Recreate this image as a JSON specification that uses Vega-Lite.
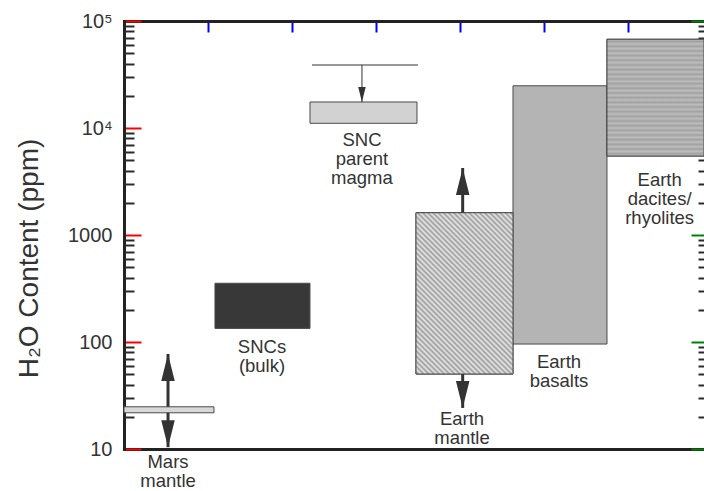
{
  "$schema": "https://vega.github.io/schema/vega-lite/v6.json",
  "width": 580,
  "height": 428,
  "autosize": {"type": "none"},
  "padding": {"left": 124, "top": 21, "right": 0, "bottom": 42},
  "background": "white",
  "config": {
    "view": {"stroke": null},
    "font": "Liberation Sans",
    "axis": {"zindex": 1, "grid": false, "title": null, "domainWidth": 3, "domainColor": "#222", "domainCap": "square"}
  },
  "datasets": {
    "boxes": [
      {"item": "Mars mantle", "x0": 0, "x1": 1.071, "lo": 21.8, "hi": 24.8},
      {"item": "SNCs (bulk)", "x0": 1.083, "x1": 2.214, "lo": 134, "hi": 354},
      {"item": "SNC parent magma", "x0": 2.214, "x1": 3.488, "lo": 11070, "hi": 17500},
      {"item": "Earth mantle", "x0": 3.476, "x1": 4.631, "lo": 50.2, "hi": 1615},
      {"item": "Earth basalts", "x0": 4.631, "x1": 5.75, "lo": 95.7, "hi": 24800},
      {"item": "Earth dacites/rhyolites", "x0": 5.75, "x1": 6.905, "lo": 5470, "hi": 67500}
    ],
    "limits": [
      {"item": "SNC parent magma", "x0": 2.238, "x1": 3.5, "y": 38800}
    ],
    "arrows": [
      {"item": "Mars mantle", "x": 0.524, "from": 24.8, "tip": 77.3, "dir": "up"},
      {"item": "Mars mantle", "x": 0.524, "from": 21.8, "tip": 10.4, "dir": "down"},
      {"item": "Earth mantle", "x": 4.032, "from": 1615, "tip": 4230, "dir": "up"},
      {"item": "Earth mantle", "x": 4.032, "from": 50.2, "tip": 24.2, "dir": "down"},
      {"item": "SNC parent magma", "x": 2.833, "from": 38800, "tip": 17500, "dir": "down"}
    ],
    "labels": [
      {"text": "Mars\nmantle", "x": 0.524, "y": 9.25},
      {"text": "SNCs\n(bulk)", "x": 1.643, "y": 109},
      {"text": "SNC\nparent\nmagma", "x": 2.833, "y": 9310},
      {"text": "Earth\nmantle", "x": 4.024, "y": 23.3},
      {"text": "Earth\nbasalts", "x": 5.179, "y": 78.9},
      {"text": "Earth\ndacites/\nrhyolites", "x": 6.377, "y": 3935}
    ]
  },
  "resolve": {"axis": {"x": "independent", "y": "independent"}},
  "layer": [
    {
      "data": {"name": "boxes"},
      "mark": {"type": "rect", "stroke": "#4a4a4a", "strokeWidth": 1},
      "encoding": {
        "x": {
          "field": "x0", "type": "quantitative",
          "scale": {"domain": [0, 6.905], "nice": false, "zero": false},
          "axis": {"orient": "bottom", "ticks": false, "labels": false}
        },
        "x2": {"field": "x1"},
        "y": {
          "field": "lo", "type": "quantitative",
          "scale": {"type": "log", "domain": [10, 100000], "nice": false},
          "axis": {
            "orient": "left",
            "values": [10, 100, 1000, 10000, 100000],
            "tickSize": -17, "tickColor": "red", "tickWidth": 2,
            "labelExpr": "datum.value == 100000 ? '10⁵' : datum.value == 10000 ? '10⁴' : datum.value == 1000 ? '1000' : datum.value == 100 ? '100' : '10'",
            "labelFont": "Liberation Sans", "labelFontSize": 20, "labelColor": "#333", "labelPadding": 29,
            "labelOverlap": false, "labelBound": false, "labelFlush": false,
            "title": "H₂O Content (ppm)",
            "titleFont": "Liberation Sans", "titleFontSize": 28, "titleFontWeight": "normal", "titleColor": "#333",
            "titlePadding": 24, "titleY": 237
          }
        },
        "y2": {"field": "hi"},
        "color": {
          "field": "item", "type": "nominal", "legend": null,
          "scale": {
            "domain": ["Mars mantle", "SNCs (bulk)", "SNC parent magma", "Earth mantle", "Earth basalts", "Earth dacites/rhyolites"],
            "range": ["#d8d8d8", "#383838", "#d2d2d2", "#cdcdcd", "#b4b4b4", "#b0b0b0"]
          }
        }
      }
    },
    {
      "data": {"name": "boxes"},
      "transform": [{"filter": "datum.item == 'Earth mantle'"}],
      "mark": {
        "type": "rect", "stroke": "#4a4a4a", "strokeWidth": 1,
        "fill": {
          "gradient": "linear", "x1": 0, "y1": 1, "x2": 0.708, "y2": -0.176,
          "stops": [
            {"offset": 0, "color": "#e8e8e8"}, {"offset": 0.01, "color": "#9c9c9c"}, {"offset": 0.02, "color": "#e8e8e8"}, {"offset": 0.03, "color": "#9c9c9c"}, {"offset": 0.04, "color": "#e8e8e8"}, {"offset": 0.05, "color": "#9c9c9c"}, {"offset": 0.06, "color": "#e8e8e8"}, {"offset": 0.07, "color": "#9c9c9c"}, {"offset": 0.08, "color": "#e8e8e8"}, {"offset": 0.09, "color": "#9c9c9c"},
            {"offset": 0.1, "color": "#e8e8e8"}, {"offset": 0.11, "color": "#9c9c9c"}, {"offset": 0.12, "color": "#e8e8e8"}, {"offset": 0.13, "color": "#9c9c9c"}, {"offset": 0.14, "color": "#e8e8e8"}, {"offset": 0.15, "color": "#9c9c9c"}, {"offset": 0.16, "color": "#e8e8e8"}, {"offset": 0.17, "color": "#9c9c9c"}, {"offset": 0.18, "color": "#e8e8e8"}, {"offset": 0.19, "color": "#9c9c9c"},
            {"offset": 0.2, "color": "#e8e8e8"}, {"offset": 0.21, "color": "#9c9c9c"}, {"offset": 0.22, "color": "#e8e8e8"}, {"offset": 0.23, "color": "#9c9c9c"}, {"offset": 0.24, "color": "#e8e8e8"}, {"offset": 0.25, "color": "#9c9c9c"}, {"offset": 0.26, "color": "#e8e8e8"}, {"offset": 0.27, "color": "#9c9c9c"}, {"offset": 0.28, "color": "#e8e8e8"}, {"offset": 0.29, "color": "#9c9c9c"},
            {"offset": 0.3, "color": "#e8e8e8"}, {"offset": 0.31, "color": "#9c9c9c"}, {"offset": 0.32, "color": "#e8e8e8"}, {"offset": 0.33, "color": "#9c9c9c"}, {"offset": 0.34, "color": "#e8e8e8"}, {"offset": 0.35, "color": "#9c9c9c"}, {"offset": 0.36, "color": "#e8e8e8"}, {"offset": 0.37, "color": "#9c9c9c"}, {"offset": 0.38, "color": "#e8e8e8"}, {"offset": 0.39, "color": "#9c9c9c"},
            {"offset": 0.4, "color": "#e8e8e8"}, {"offset": 0.41, "color": "#9c9c9c"}, {"offset": 0.42, "color": "#e8e8e8"}, {"offset": 0.43, "color": "#9c9c9c"}, {"offset": 0.44, "color": "#e8e8e8"}, {"offset": 0.45, "color": "#9c9c9c"}, {"offset": 0.46, "color": "#e8e8e8"}, {"offset": 0.47, "color": "#9c9c9c"}, {"offset": 0.48, "color": "#e8e8e8"}, {"offset": 0.49, "color": "#9c9c9c"},
            {"offset": 0.5, "color": "#e8e8e8"}, {"offset": 0.51, "color": "#9c9c9c"}, {"offset": 0.52, "color": "#e8e8e8"}, {"offset": 0.53, "color": "#9c9c9c"}, {"offset": 0.54, "color": "#e8e8e8"}, {"offset": 0.55, "color": "#9c9c9c"}, {"offset": 0.56, "color": "#e8e8e8"}, {"offset": 0.57, "color": "#9c9c9c"}, {"offset": 0.58, "color": "#e8e8e8"}, {"offset": 0.59, "color": "#9c9c9c"},
            {"offset": 0.6, "color": "#e8e8e8"}, {"offset": 0.61, "color": "#9c9c9c"}, {"offset": 0.62, "color": "#e8e8e8"}, {"offset": 0.63, "color": "#9c9c9c"}, {"offset": 0.64, "color": "#e8e8e8"}, {"offset": 0.65, "color": "#9c9c9c"}, {"offset": 0.66, "color": "#e8e8e8"}, {"offset": 0.67, "color": "#9c9c9c"}, {"offset": 0.68, "color": "#e8e8e8"}, {"offset": 0.69, "color": "#9c9c9c"},
            {"offset": 0.7, "color": "#e8e8e8"}, {"offset": 0.71, "color": "#9c9c9c"}, {"offset": 0.72, "color": "#e8e8e8"}, {"offset": 0.73, "color": "#9c9c9c"}, {"offset": 0.74, "color": "#e8e8e8"}, {"offset": 0.75, "color": "#9c9c9c"}, {"offset": 0.76, "color": "#e8e8e8"}, {"offset": 0.77, "color": "#9c9c9c"}, {"offset": 0.78, "color": "#e8e8e8"}, {"offset": 0.79, "color": "#9c9c9c"},
            {"offset": 0.8, "color": "#e8e8e8"}, {"offset": 0.81, "color": "#9c9c9c"}, {"offset": 0.82, "color": "#e8e8e8"}, {"offset": 0.83, "color": "#9c9c9c"}, {"offset": 0.84, "color": "#e8e8e8"}, {"offset": 0.85, "color": "#9c9c9c"}, {"offset": 0.86, "color": "#e8e8e8"}, {"offset": 0.87, "color": "#9c9c9c"}, {"offset": 0.88, "color": "#e8e8e8"}, {"offset": 0.89, "color": "#9c9c9c"},
            {"offset": 0.9, "color": "#e8e8e8"}, {"offset": 0.91, "color": "#9c9c9c"}, {"offset": 0.92, "color": "#e8e8e8"}, {"offset": 0.93, "color": "#9c9c9c"}, {"offset": 0.94, "color": "#e8e8e8"}, {"offset": 0.95, "color": "#9c9c9c"}, {"offset": 0.96, "color": "#e8e8e8"}, {"offset": 0.97, "color": "#9c9c9c"}, {"offset": 0.98, "color": "#e8e8e8"}, {"offset": 0.99, "color": "#9c9c9c"},
            {"offset": 1, "color": "#e8e8e8"}
          ]
        }
      },
      "encoding": {
        "x": {"field": "x0", "type": "quantitative", "axis": null},
        "x2": {"field": "x1"},
        "y": {
          "field": "lo", "type": "quantitative",
          "axis": {
            "orient": "left",
            "values": [20, 30, 40, 50, 60, 70, 80, 90, 200, 300, 400, 500, 600, 700, 800, 900, 2000, 3000, 4000, 5000, 6000, 7000, 8000, 9000, 20000, 30000, 40000, 50000, 60000, 70000, 80000, 90000],
            "tickSize": -10, "tickColor": "#2a2a2a", "tickWidth": 2, "labels": false, "domain": false
          }
        },
        "y2": {"field": "hi"}
      }
    },
    {
      "data": {"name": "boxes"},
      "transform": [{"filter": "datum.item == 'Earth dacites/rhyolites'"}],
      "mark": {
        "type": "rect", "stroke": "#4a4a4a", "strokeWidth": 1,
        "fill": {
          "gradient": "linear", "x1": 0, "y1": 0, "x2": 0, "y2": 1,
          "stops": [
            {"offset": 0, "color": "#bdbdbd"}, {"offset": 0.02, "color": "#a2a2a2"}, {"offset": 0.04, "color": "#bdbdbd"}, {"offset": 0.06, "color": "#a2a2a2"}, {"offset": 0.08, "color": "#bdbdbd"}, {"offset": 0.1, "color": "#a2a2a2"}, {"offset": 0.12, "color": "#bdbdbd"}, {"offset": 0.14, "color": "#a2a2a2"}, {"offset": 0.16, "color": "#bdbdbd"}, {"offset": 0.18, "color": "#a2a2a2"},
            {"offset": 0.2, "color": "#bdbdbd"}, {"offset": 0.22, "color": "#a2a2a2"}, {"offset": 0.24, "color": "#bdbdbd"}, {"offset": 0.26, "color": "#a2a2a2"}, {"offset": 0.28, "color": "#bdbdbd"}, {"offset": 0.3, "color": "#a2a2a2"}, {"offset": 0.32, "color": "#bdbdbd"}, {"offset": 0.34, "color": "#a2a2a2"}, {"offset": 0.36, "color": "#bdbdbd"}, {"offset": 0.38, "color": "#a2a2a2"},
            {"offset": 0.4, "color": "#bdbdbd"}, {"offset": 0.42, "color": "#a2a2a2"}, {"offset": 0.44, "color": "#bdbdbd"}, {"offset": 0.46, "color": "#a2a2a2"}, {"offset": 0.48, "color": "#bdbdbd"}, {"offset": 0.5, "color": "#a2a2a2"}, {"offset": 0.52, "color": "#bdbdbd"}, {"offset": 0.54, "color": "#a2a2a2"}, {"offset": 0.56, "color": "#bdbdbd"}, {"offset": 0.58, "color": "#a2a2a2"},
            {"offset": 0.6, "color": "#bdbdbd"}, {"offset": 0.62, "color": "#a2a2a2"}, {"offset": 0.64, "color": "#bdbdbd"}, {"offset": 0.66, "color": "#a2a2a2"}, {"offset": 0.68, "color": "#bdbdbd"}, {"offset": 0.7, "color": "#a2a2a2"}, {"offset": 0.72, "color": "#bdbdbd"}, {"offset": 0.74, "color": "#a2a2a2"}, {"offset": 0.76, "color": "#bdbdbd"}, {"offset": 0.78, "color": "#a2a2a2"},
            {"offset": 0.8, "color": "#bdbdbd"}, {"offset": 0.82, "color": "#a2a2a2"}, {"offset": 0.84, "color": "#bdbdbd"}, {"offset": 0.86, "color": "#a2a2a2"}, {"offset": 0.88, "color": "#bdbdbd"}, {"offset": 0.9, "color": "#a2a2a2"}, {"offset": 0.92, "color": "#bdbdbd"}, {"offset": 0.94, "color": "#a2a2a2"}, {"offset": 0.96, "color": "#bdbdbd"}, {"offset": 0.98, "color": "#a2a2a2"},
            {"offset": 1, "color": "#bdbdbd"}
          ]
        }
      },
      "encoding": {
        "x": {"field": "x0", "type": "quantitative", "axis": null},
        "x2": {"field": "x1"},
        "y": {"field": "lo", "type": "quantitative", "axis": null},
        "y2": {"field": "hi"}
      }
    },
    {
      "data": {"name": "limits"},
      "mark": {"type": "rule", "stroke": "#333", "strokeWidth": 1.2},
      "encoding": {
        "x": {
          "field": "x0", "type": "quantitative",
          "axis": {"orient": "top", "values": [1, 2, 3, 4, 5, 6], "labels": false, "tickSize": -11, "tickColor": "blue", "tickWidth": 2}
        },
        "x2": {"field": "x1"},
        "y": {
          "field": "y", "type": "quantitative",
          "axis": {
            "orient": "right",
            "values": [10, 100, 1000, 10000, 100000],
            "labels": false, "domain": false, "tickSize": -13, "tickColor": "green", "tickWidth": 2
          }
        }
      }
    },
    {
      "data": {"name": "arrows"},
      "transform": [{"filter": "datum.item != 'SNC parent magma'"}],
      "mark": {"type": "rule", "stroke": "#333", "strokeWidth": 3},
      "encoding": {
        "x": {"field": "x", "type": "quantitative", "axis": null},
        "y": {
          "field": "from", "type": "quantitative",
          "axis": {
            "orient": "right",
            "values": [20, 30, 40, 50, 60, 70, 80, 90, 200, 300, 400, 500, 600, 700, 800, 900, 2000, 3000, 4000, 5000, 6000, 7000, 8000, 9000, 20000, 30000, 40000, 50000, 60000, 70000, 80000, 90000],
            "labels": false, "domain": false, "tickSize": -6, "tickColor": "#2a2a2a", "tickWidth": 2
          }
        },
        "y2": {"field": "tip"}
      }
    },
    {
      "data": {"name": "arrows"},
      "transform": [{"filter": "datum.item == 'SNC parent magma'"}],
      "mark": {"type": "rule", "stroke": "#333", "strokeWidth": 1},
      "encoding": {
        "x": {"field": "x", "type": "quantitative", "axis": null},
        "y": {"field": "from", "type": "quantitative", "axis": null},
        "y2": {"field": "tip"}
      }
    },
    {
      "data": {"name": "arrows"},
      "transform": [{"filter": "datum.item != 'SNC parent magma'"}],
      "mark": {"type": "point", "filled": true, "fill": "#333", "stroke": null, "opacity": 1, "size": 2916},
      "encoding": {
        "x": {"field": "x", "type": "quantitative", "axis": null},
        "y": {"field": "tip", "type": "quantitative", "axis": null},
        "shape": {
          "field": "dir", "type": "nominal", "legend": null,
          "scale": {"domain": ["up", "down"], "range": ["M0,0L-0.25,1L0.25,1Z", "M0,0L-0.25,-1L0.25,-1Z"]}
        }
      }
    },
    {
      "data": {"name": "arrows"},
      "transform": [{"filter": "datum.item == 'SNC parent magma'"}],
      "mark": {"type": "point", "filled": true, "fill": "#333", "stroke": null, "opacity": 1, "size": 900},
      "encoding": {
        "x": {"field": "x", "type": "quantitative", "axis": null},
        "y": {"field": "tip", "type": "quantitative", "axis": null},
        "shape": {
          "field": "dir", "type": "nominal", "legend": null,
          "scale": {"domain": ["up", "down"], "range": ["M0,0L-0.25,1L0.25,1Z", "M0,0L-0.25,-1L0.25,-1Z"]}
        }
      }
    },
    {
      "data": {"name": "labels"},
      "mark": {"type": "text", "align": "center", "baseline": "top", "lineBreak": "\n", "font": "Liberation Sans", "fontSize": 18.5, "lineHeight": 19, "fill": "#333"},
      "encoding": {
        "x": {"field": "x", "type": "quantitative", "axis": null},
        "y": {"field": "y", "type": "quantitative", "axis": null},
        "text": {"field": "text", "type": "nominal"}
      }
    }
  ]
}
